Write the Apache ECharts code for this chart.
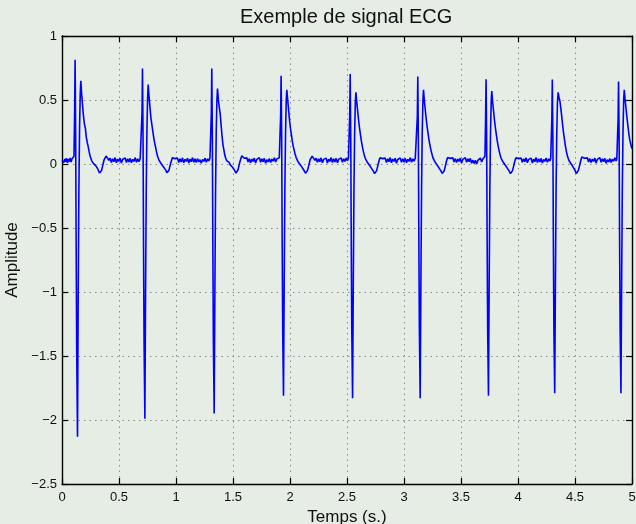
<!DOCTYPE html>
<html>
<head>
<meta charset="utf-8">
<script src="https://cdn.jsdelivr.net/npm/echarts@6/dist/echarts.min.js"></script>
<style>
html,body{margin:0;padding:0;background:#e5ede5;}
#c{width:636px;height:524px;}
</style>
</head>
<body>
<div id="c"></div>
<script>
// Time (s) / amplitude pairs, one array per segment
const lead = [[0,0.03],[0.008,0.045],[0.016,0.012],[0.024,0.04],[0.032,0.018],[0.04,0.045],[0.048,0.01],[0.056,0.038],[0.064,0.02],[0.072,0.048],[0.08,0.015],[0.088,0.04],[0.096,0.025],[0.101,0.045]];

const beat1 = [[0.105,0.06],[0.111,0.42],[0.115,0.814],[0.12,0.2],[0.124,-0.6],[0.129,-1.45],[0.136,-2.13],[0.142,-1.05],[0.148,-0.22],[0.154,0.28],[0.16,0.55],[0.165,0.65],[0.173,0.54],[0.181,0.45],[0.189,0.37],[0.197,0.31],[0.205,0.28],[0.213,0.21],[0.221,0.17],[0.229,0.14],[0.237,0.1],[0.247,0.06],[0.254,0.045],[0.261,0.025],[0.268,0.02],[0.275,0.005],[0.282,0.01],[0.29,-0.01],[0.297,-0.015],[0.305,-0.03],[0.312,-0.035],[0.319,-0.05],[0.329,-0.07],[0.337,-0.08],[0.347,-0.05],[0.355,-0.02],[0.363,0.01],[0.37,0.035],[0.377,0.05],[0.387,0.062],[0.4,0.045]];
const base1 = [[0.411,0.028],[0.422,0.045],[0.433,0.012],[0.444,0.04],[0.455,0.018],[0.466,0.05],[0.477,0.01],[0.488,0.038],[0.499,0.02],[0.51,0.045],[0.521,0.008],[0.532,0.035],[0.543,0.022],[0.554,0.048],[0.565,0.012],[0.576,0.04],[0.587,0.016],[0.598,0.044],[0.609,0.01],[0.62,0.036],[0.631,0.02],[0.642,0.05],[0.653,0.014],[0.664,0.04],[0.675,0.018],[0.686,0.045],[0.692,0.03]];

const beat2 = [[0.696,0.06],[0.702,0.4],[0.706,0.746],[0.711,0.2],[0.715,-0.6],[0.72,-1.4],[0.727,-1.99],[0.733,-1.0],[0.739,-0.2],[0.745,0.27],[0.751,0.52],[0.756,0.62],[0.764,0.52],[0.772,0.44],[0.78,0.36],[0.788,0.31],[0.796,0.26],[0.804,0.21],[0.812,0.17],[0.82,0.135],[0.828,0.1],[0.838,0.06],[0.845,0.045],[0.852,0.028],[0.859,0.022],[0.866,0.008],[0.873,0.012],[0.881,-0.012],[0.888,-0.01],[0.896,-0.03],[0.903,-0.035],[0.91,-0.048],[0.92,-0.068],[0.928,-0.075],[0.938,-0.05],[0.946,-0.02],[0.954,0.008],[0.961,0.03],[0.968,0.048],[0.978,0.06],[0.991,0.042]];
const base2 = [[1.002,0.028],[1.013,0.046],[1.024,0.012],[1.035,0.04],[1.046,0.016],[1.057,0.048],[1.068,0.01],[1.079,0.036],[1.09,0.02],[1.101,0.045],[1.112,0.008],[1.123,0.038],[1.134,0.018],[1.145,0.05],[1.156,0.014],[1.167,0.04],[1.178,0.012],[1.189,0.042],[1.2,0.016],[1.211,0.034],[1.222,0.006],[1.233,0.036],[1.244,0.02],[1.255,0.046],[1.266,0.014],[1.277,0.04],[1.288,0.024],[1.298,0.048]];

const beat3 = [[1.304,0.06],[1.31,0.4],[1.314,0.746],[1.319,0.2],[1.323,-0.6],[1.328,-1.4],[1.335,-1.95],[1.341,-1.0],[1.347,-0.2],[1.353,0.26],[1.359,0.5],[1.364,0.59],[1.372,0.5],[1.38,0.44],[1.388,0.39],[1.396,0.3],[1.404,0.22],[1.412,0.15],[1.42,0.11],[1.428,0.07],[1.436,0.045],[1.446,0.025],[1.453,0.02],[1.46,0.01],[1.467,0.012],[1.474,-0.005],[1.481,-0.002],[1.489,-0.02],[1.496,-0.025],[1.504,-0.04],[1.511,-0.045],[1.518,-0.058],[1.526,-0.072],[1.534,-0.07],[1.544,-0.045],[1.552,-0.015],[1.56,0.015],[1.568,0.04],[1.578,0.065],[1.588,0.058],[1.599,0.045]];
const base3 = [[1.61,0.03],[1.621,0.048],[1.632,0.016],[1.643,0.042],[1.654,0.01],[1.665,0.038],[1.676,0.02],[1.687,0.046],[1.698,0.008],[1.709,0.036],[1.72,0.024],[1.731,0.05],[1.742,0.014],[1.753,0.04],[1.764,0.018],[1.775,0.044],[1.786,0.006],[1.797,0.034],[1.808,0.016],[1.819,0.042],[1.83,0.012],[1.841,0.038],[1.852,0.022],[1.863,0.048],[1.874,0.016],[1.885,0.04],[1.896,0.026],[1.906,0.048]];

const beat4 = [[1.912,0.06],[1.918,0.38],[1.922,0.69],[1.927,0.2],[1.931,-0.55],[1.936,-1.3],[1.943,-1.81],[1.949,-0.95],[1.955,-0.2],[1.961,0.25],[1.967,0.5],[1.972,0.58],[1.98,0.5],[1.988,0.42],[1.996,0.34],[2.004,0.28],[2.012,0.23],[2.02,0.18],[2.028,0.14],[2.036,0.11],[2.044,0.08],[2.054,0.05],[2.061,0.04],[2.068,0.022],[2.075,0.02],[2.082,0.004],[2.089,0.008],[2.097,-0.015],[2.104,-0.018],[2.112,-0.035],[2.119,-0.04],[2.126,-0.055],[2.136,-0.072],[2.144,-0.078],[2.154,-0.05],[2.162,-0.02],[2.17,0.01],[2.177,0.035],[2.184,0.05],[2.194,0.062],[2.207,0.044]];
const base4 = [[2.218,0.028],[2.229,0.045],[2.24,0.014],[2.251,0.04],[2.262,0.018],[2.273,0.048],[2.284,0.01],[2.295,0.036],[2.306,0.022],[2.317,0.046],[2.328,0.008],[2.339,0.038],[2.35,0.02],[2.361,0.05],[2.372,0.012],[2.383,0.04],[2.394,0.016],[2.405,0.044],[2.416,0.01],[2.427,0.036],[2.438,0.022],[2.449,0.048],[2.46,0.014],[2.471,0.04],[2.482,0.02],[2.493,0.046],[2.504,0.026],[2.513,0.048]];

const beat5 = [[2.518,0.06],[2.524,0.38],[2.528,0.704],[2.533,0.2],[2.537,-0.55],[2.542,-1.3],[2.549,-1.83],[2.555,-0.95],[2.561,-0.2],[2.567,0.24],[2.573,0.48],[2.578,0.56],[2.586,0.48],[2.594,0.41],[2.602,0.34],[2.61,0.28],[2.618,0.23],[2.626,0.18],[2.634,0.14],[2.642,0.105],[2.65,0.075],[2.66,0.045],[2.667,0.035],[2.674,0.02],[2.681,0.018],[2.688,0.002],[2.695,0.006],[2.703,-0.018],[2.71,-0.02],[2.718,-0.038],[2.725,-0.042],[2.732,-0.058],[2.742,-0.075],[2.75,-0.08],[2.76,-0.052],[2.768,-0.022],[2.776,0.008],[2.783,0.032],[2.79,0.048],[2.8,0.06],[2.813,0.042]];
const base5 = [[2.824,0.028],[2.835,0.046],[2.846,0.012],[2.857,0.04],[2.868,0.018],[2.879,0.05],[2.89,0.01],[2.901,0.038],[2.912,0.02],[2.923,0.045],[2.934,0.006],[2.945,0.035],[2.956,0.022],[2.967,0.048],[2.978,0.014],[2.989,0.04],[3.0,0.016],[3.011,0.044],[3.022,0.01],[3.033,0.036],[3.044,0.02],[3.055,0.05],[3.066,0.014],[3.077,0.04],[3.088,0.022],[3.099,0.046],[3.106,0.035]];

const beat6 = [[3.111,0.06],[3.117,0.37],[3.121,0.683],[3.126,0.2],[3.13,-0.55],[3.135,-1.3],[3.142,-1.83],[3.148,-0.95],[3.154,-0.2],[3.16,0.25],[3.166,0.5],[3.171,0.58],[3.179,0.49],[3.187,0.42],[3.195,0.35],[3.203,0.29],[3.211,0.24],[3.219,0.19],[3.227,0.15],[3.235,0.115],[3.243,0.085],[3.253,0.05],[3.26,0.04],[3.267,0.024],[3.274,0.02],[3.281,0.004],[3.288,0.008],[3.296,-0.016],[3.303,-0.018],[3.311,-0.036],[3.318,-0.04],[3.325,-0.056],[3.335,-0.074],[3.343,-0.08],[3.353,-0.052],[3.361,-0.022],[3.369,0.008],[3.376,0.034],[3.383,0.05],[3.393,0.062],[3.406,0.044]];
const base6 = [[3.417,0.03],[3.428,0.048],[3.439,0.016],[3.45,0.042],[3.461,0.012],[3.472,0.038],[3.483,0.02],[3.494,0.046],[3.505,0.008],[3.516,0.036],[3.527,0.022],[3.538,0.05],[3.549,0.014],[3.56,0.04],[3.571,0.018],[3.582,0.044],[3.593,0.006],[3.604,0.03],[3.615,0.004],[3.626,0.03],[3.637,0.0],[3.648,0.028],[3.659,0.016],[3.67,0.046],[3.681,0.016],[3.692,0.04],[3.702,0.034]];

const beat7 = [[3.71,0.06],[3.716,0.36],[3.72,0.662],[3.725,0.2],[3.729,-0.55],[3.734,-1.3],[3.741,-1.81],[3.747,-0.95],[3.753,-0.2],[3.759,0.25],[3.765,0.49],[3.77,0.57],[3.778,0.48],[3.786,0.41],[3.794,0.34],[3.802,0.28],[3.81,0.23],[3.818,0.18],[3.826,0.14],[3.834,0.105],[3.842,0.075],[3.852,0.045],[3.859,0.035],[3.866,0.02],[3.873,0.018],[3.88,0.002],[3.887,0.006],[3.895,-0.018],[3.902,-0.02],[3.91,-0.038],[3.917,-0.042],[3.924,-0.058],[3.934,-0.075],[3.942,-0.08],[3.952,-0.052],[3.96,-0.022],[3.968,0.008],[3.975,0.032],[3.982,0.048],[3.992,0.06],[4.005,0.042]];
const base7 = [[4.016,0.028],[4.027,0.046],[4.038,0.014],[4.049,0.04],[4.06,0.018],[4.071,0.048],[4.082,0.01],[4.093,0.036],[4.104,0.022],[4.115,0.045],[4.126,0.008],[4.137,0.038],[4.148,0.018],[4.159,0.05],[4.17,0.012],[4.181,0.04],[4.192,0.016],[4.203,0.044],[4.214,0.008],[4.225,0.036],[4.236,0.02],[4.247,0.046],[4.258,0.014],[4.269,0.04],[4.28,0.024],[4.287,0.045]];

const beat8 = [[4.291,0.06],[4.297,0.36],[4.301,0.66],[4.306,0.2],[4.31,-0.55],[4.315,-1.3],[4.322,-1.79],[4.328,-0.95],[4.334,-0.2],[4.34,0.24],[4.346,0.48],[4.352,0.56],[4.36,0.52],[4.368,0.49],[4.376,0.43],[4.384,0.37],[4.392,0.3],[4.4,0.24],[4.408,0.19],[4.416,0.14],[4.424,0.1],[4.434,0.06],[4.441,0.045],[4.448,0.025],[4.455,0.02],[4.462,0.006],[4.469,0.008],[4.476,-0.012],[4.483,-0.016],[4.49,-0.035],[4.497,-0.042],[4.504,-0.058],[4.512,-0.075],[4.52,-0.078],[4.53,-0.05],[4.538,-0.02],[4.546,0.01],[4.553,0.035],[4.56,0.055],[4.57,0.06],[4.586,0.045]];
const base8 = [[4.597,0.03],[4.608,0.048],[4.619,0.016],[4.63,0.042],[4.641,0.012],[4.652,0.038],[4.663,0.02],[4.674,0.046],[4.685,0.008],[4.696,0.036],[4.707,0.022],[4.718,0.05],[4.729,0.014],[4.74,0.04],[4.751,0.018],[4.762,0.044],[4.773,0.006],[4.784,0.034],[4.795,0.016],[4.806,0.042],[4.817,0.012],[4.828,0.038],[4.839,0.022],[4.85,0.048],[4.861,0.024],[4.867,0.045]];

const beat9 = [[4.872,0.06],[4.878,0.35],[4.882,0.644],[4.887,0.2],[4.891,-0.55],[4.896,-1.3],[4.903,-1.79],[4.909,-0.95],[4.915,-0.2],[4.921,0.25],[4.927,0.5],[4.932,0.58],[4.94,0.5],[4.948,0.43],[4.956,0.36],[4.964,0.3],[4.972,0.24],[4.98,0.19],[4.988,0.16],[4.996,0.13],[5.0,0.12]];

const xTicks = {min: 0, max: 5, step: 0.5};
const yTicks = {min: -2.5, max: 1, step: 0.5};

const ecg = [].concat(lead, beat1, base1, beat2, base2, beat3, base3, beat4, base4,
  beat5, base5, beat6, base6, beat7, base7, beat8, base8, beat9);

const FONT = '"Liberation Sans", Arial, Helvetica, sans-serif';
const axisLineStyle = {color: '#000', width: 1.4};
const tickStyle = {color: '#000', width: 1.2};
const gridLine = {show: true, lineStyle: {color: '#8a8a8a', width: 1, type: [1.5, 4]}};

const chart = echarts.init(document.getElementById('c'), null, {renderer: 'canvas'});
chart.setOption({
  backgroundColor: '#e5ede5',
  animation: false,
  textStyle: {fontFamily: FONT},
  title: {
    text: 'Exemple de signal ECG',
    left: 240, top: 7, padding: 0,
    textStyle: {fontFamily: FONT, fontSize: 20, fontWeight: 'normal', color: '#111'}
  },
  grid: {left: 62, right: 4, top: 36, bottom: 40, containLabel: false, outerBoundsMode: 'none'},
  xAxis: [{
    type: 'value', min: xTicks.min, max: xTicks.max, interval: xTicks.step,
    position: 'bottom',
    name: 'Temps (s.)', nameLocation: 'middle', nameGap: 22,
    nameTextStyle: {fontFamily: FONT, fontSize: 17, color: '#111'},
    axisLine: {show: true, onZero: false, lineStyle: axisLineStyle},
    axisTick: {show: true, inside: true, length: 6, lineStyle: tickStyle},
    axisLabel: {fontFamily: FONT, fontSize: 13, color: '#111', margin: 7},
    splitLine: gridLine
  }, {
    type: 'value', min: xTicks.min, max: xTicks.max, interval: xTicks.step,
    position: 'top',
    axisLine: {show: true, onZero: false, lineStyle: axisLineStyle},
    axisTick: {show: true, inside: true, length: 6, lineStyle: tickStyle},
    axisLabel: {show: false},
    splitLine: {show: false}
  }],
  yAxis: [{
    type: 'value', min: yTicks.min, max: yTicks.max, interval: yTicks.step,
    position: 'left',
    name: 'Amplitude', nameLocation: 'middle', nameGap: 36,
    nameTextStyle: {fontFamily: FONT, fontSize: 17, color: '#111'},
    axisLine: {show: true, onZero: false, lineStyle: axisLineStyle},
    axisTick: {show: true, inside: true, length: 6, lineStyle: tickStyle},
    axisLabel: {fontFamily: FONT, fontSize: 13, color: '#111', margin: 5,
      formatter: v => String(v).replace('-', '\u2212')},
    splitLine: gridLine
  }, {
    type: 'value', min: yTicks.min, max: yTicks.max, interval: yTicks.step,
    position: 'right',
    axisLine: {show: true, onZero: false, lineStyle: axisLineStyle},
    axisTick: {show: true, inside: true, length: 6, lineStyle: tickStyle},
    axisLabel: {show: false},
    splitLine: {show: false}
  }],
  series: [{
    type: 'line',
    xAxisIndex: 0, yAxisIndex: 0,
    data: ecg,
    showSymbol: false,
    symbol: 'none',
    sampling: null,
    lineStyle: {color: '#0000ff', width: 1.6},
    emphasis: {disabled: true}
  }]
});
</script>
</body>
</html>
